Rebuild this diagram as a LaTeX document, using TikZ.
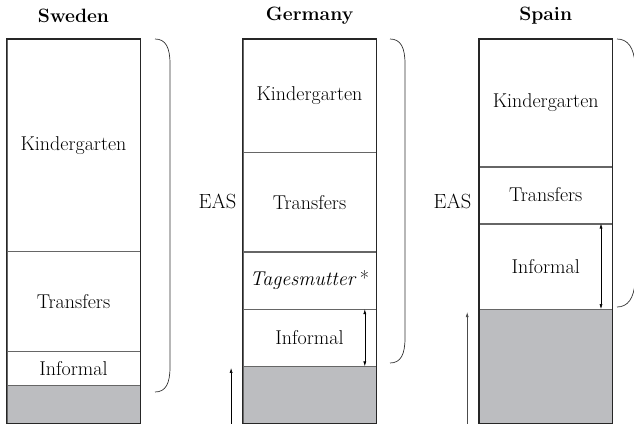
\documentclass[tikz,border=0pt]{standalone}
\usepackage{fontspec}
\usetikzlibrary{arrows.meta}
\definecolor{shade}{RGB}{188,189,192}
\begin{document}
\begin{tikzpicture}[x=1pt,y=-1pt,
  seg/.style={draw=black!60, line width=0.6pt, minimum width=133pt, inner sep=0pt, anchor=north, font=\fontsize{20}{22}\selectfont},
  grayseg/.style={seg, fill=shade},
  outer/.style={draw=black!85, line width=1.3pt},
  ttl/.style={font=\fontsize{19.3}{22}\selectfont\bfseries},
  lbl/.style={font=\fontsize{20.5}{22}\selectfont},
  brace/.style={draw=black!80, line width=0.7pt},
  dbl/.style={draw=black, line width=0.6pt, {Latex[length=5pt,width=3pt]}-{Latex[length=5pt,width=3pt]}},
  upar/.style={draw=black, line width=0.6pt, -{Latex[length=5pt,width=3pt]}}
]
\useasboundingbox (0,0) rectangle (634,423);
\clip (0,0) rectangle (634,423);

% titles
\node[ttl] (swT) at (73.5,16) {Sweden};
\node[ttl] (deT) at (309.5,16) {Germany};
\node[ttl] (esT) at (545.7,16) {Spain};

% Sweden
\node[seg, minimum height=211.7pt] (swK) at (73.5,39) {Kindergarten};
\node[seg, minimum height=99.3pt] (swT2) at (swK.south) {Transfers};
\node[seg, minimum height=33.3pt] (swI) at (swT2.south) {Informal};
\node[grayseg, minimum height=37.7pt] (swG) at (swI.south) {};
\draw[outer] (swK.north west) rectangle (swG.south east);

% Germany
\node[seg, minimum height=112.7pt] (deK) at (309.5,39) {Kindergarten};
\node[seg, minimum height=99pt] (deT2) at (deK.south) {Transfers};
\node[seg, minimum height=56.6pt] (deM) at (deT2.south) {\textit{Tagesmutter}\,*};
\node[seg, minimum height=56.7pt] (deI) at (deM.south) {Informal};
\node[grayseg, minimum height=57pt] (deG) at (deI.south) {};
\draw[outer] (deK.north west) rectangle (deG.south east);

% Spain
\node[seg, minimum height=127pt] (esK) at (545.7,39) {Kindergarten};
\node[seg, minimum height=56.3pt] (esT2) at (esK.south) {Transfers};
\node[seg, minimum height=85pt] (esI) at (esT2.south) {Informal};
\node[grayseg, minimum height=113.7pt] (esG) at (esI.south) {};
\draw[outer] (esK.north west) rectangle (esG.south east);

% EAS labels
\node[lbl] (eas1) at (217.5,201.7) {EAS};
\node[lbl] (eas2) at (452.5,201.7) {EAS};

% braces
\draw[brace] (155,39) .. controls (166,39) and (170,48) .. (170,64) -- (170,367) .. controls (170,383) and (166,392) .. (155,392);
\draw[brace] (390,39) .. controls (401,39) and (405,48) .. (405,64) -- (405,338) .. controls (405,354) and (401,363) .. (390,363);
\draw[brace] (617,39) .. controls (628,39) and (634,48) .. (635,64) -- (635,282) .. controls (634,298) and (628,307) .. (617,307);

% arrows
\draw[dbl] ([xshift=-11.5pt]deI.north east) -- ([xshift=-11.5pt]deI.south east);
\draw[dbl] ([xshift=-11.5pt]esI.north east) -- ([xshift=-11.5pt]esI.south east);
\coordinate (deB) at ([xshift=-11.6pt,yshift=-3pt]deG.south west);
\coordinate (esB) at ([xshift=-11.7pt,yshift=-3pt]esG.south west);
\draw[upar] (deB) -- ([xshift=-11.6pt,yshift=-1.5pt]deG.north west);
\draw[upar, draw=black!70] (esB) -- ([xshift=-11.7pt,yshift=-3pt]esG.north west);
\end{tikzpicture}
\end{document}
